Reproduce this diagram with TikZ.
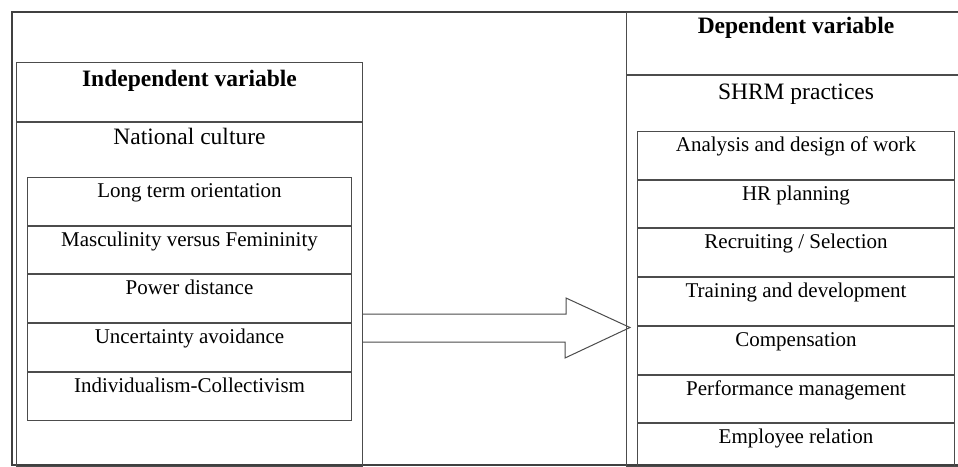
\documentclass[tikz,border=0pt]{standalone}
\usepackage{fontspec}
\setmainfont{Liberation Serif}
\usetikzlibrary{calc}

\tikzset{
  frame/.style={draw=black!75, line width=1.2pt},
  head/.style={draw=black!70, line width=1pt, anchor=north west, inner sep=0pt,
    font=\fontsize{23.5}{28}\selectfont},
  cell/.style={draw=black!70, line width=1pt, anchor=north west, inner sep=0pt,
    text height=20pt, text depth=27.7pt, font=\fontsize{21}{25}\selectfont}
}

\begin{document}
\begin{tikzpicture}[x=1pt, y=-1pt]
  \useasboundingbox (0,0) rectangle (958,466);
  \fill[white] (0,0) rectangle (958,466);
  \draw[frame] (962,465) -- (12,465) -- (12,12) -- (962,12);

  % independent side
  \node[head, minimum width=346pt, text height=24pt, text depth=35pt, font=\fontsize{23.5}{28}\selectfont\bfseries] (indep) at (16,62) {Independent variable};
  \node[head, minimum width=346pt, text height=22pt, text depth=322pt] (natcult) at (indep.south west) {National culture};
  \node[cell, minimum width=324pt] (lto) at (27,177) {Long term orientation};
  \node[cell, minimum width=324pt] (mas) at (lto.south west) {Masculinity versus Femininity};
  \node[cell, minimum width=324pt] (pd) at (mas.south west) {Power distance};
  \node[cell, minimum width=324pt] (ua) at (pd.south west) {Uncertainty avoidance};
  \node[cell, minimum width=324pt] (ic) at (ua.south west) {Individualism-Collectivism};

  % dependent side
  \node[head, minimum width=339pt, text height=21pt, text depth=41pt, font=\fontsize{23.5}{28}\selectfont\bfseries] (dep) at (626,12) {Dependent variable};
  \node[head, minimum width=339pt, text height=24pt, text depth=367pt] (shrm) at (dep.south west) {SHRM practices};
  \node[cell, minimum width=317pt] (adw) at (637,131) {Analysis and design of work};
  \node[cell, minimum width=317pt] (hrp) at (adw.south west) {HR planning};
  \node[cell, minimum width=317pt] (rs) at (hrp.south west) {Recruiting / Selection};
  \node[cell, minimum width=317pt] (td) at (rs.south west) {Training and development};
  \node[cell, minimum width=317pt] (comp) at (td.south west) {Compensation};
  \node[cell, minimum width=317pt] (pm) at (comp.south west) {Performance management};
  \node[cell, minimum width=317pt] (er) at (pm.south west) {Employee relation};

  % block arrow
  \coordinate (from) at ($(natcult.north east)+(0,206.5)$);
  \coordinate (tip) at (630,327.5);
  \draw[draw=black!70, line width=1pt] (from) ++(0,-14.5) -- ++(203,0) -- ++(0,-16) -- (tip)
    -- ++(-65,30.5) -- ++(0,-16) -- ++(-203,0);
\end{tikzpicture}
\end{document}
